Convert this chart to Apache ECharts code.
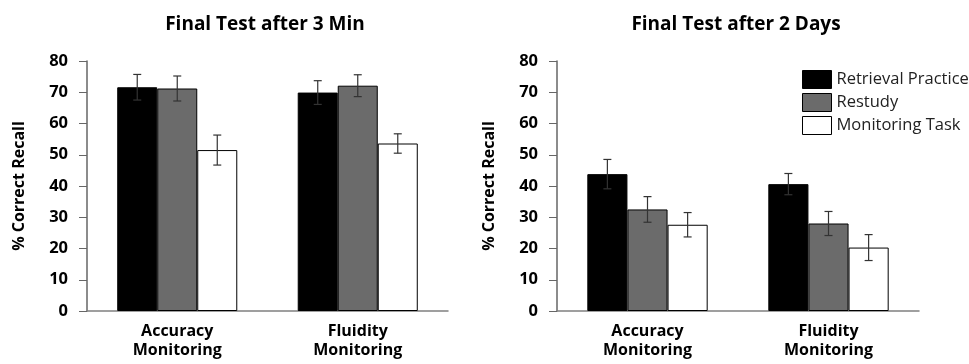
<!DOCTYPE html>
<html>
<head>
<meta charset="utf-8">
<script src="https://cdn.jsdelivr.net/npm/echarts@6/dist/echarts.min.js"></script>
<style>html,body{margin:0;padding:0;background:#fff}#c{width:969px;height:364px}</style>
</head>
<body>
<div id="c"></div>
<script>
const categories = ['Accuracy\nMonitoring', 'Fluidity\nMonitoring'];
const seriesNames = ['Retrieval Practice', 'Restudy', 'Monitoring Task'];
const yTicks = [0, 10, 20, 30, 40, 50, 60, 70, 80];
const titles = ['Final Test after 3 Min', 'Final Test after 2 Days'];

// Final Test after 3 Min
const min3Retrieval = [71.6, 69.9];
const min3Restudy = [71.2, 72.1];
const min3Monitoring = [51.5, 53.6];
const min3RetrievalErr = [4.1, 3.8];
const min3RestudyErr = [4.0, 3.5];
const min3MonitoringErr = [4.8, 3.1];

// Final Test after 2 Days
const day2Retrieval = [43.8, 40.6];
const day2Restudy = [32.5, 28.0];
const day2Monitoring = [27.6, 20.3];
const day2RetrievalErr = [4.7, 3.4];
const day2RestudyErr = [4.1, 3.85];
const day2MonitoringErr = [3.9, 4.15];

const colors = ['#000000', '#6b6b6b', '#ffffff'];
const FONT = 'Open Sans';
const GAP = 0.335;

const panels = [
  { vals: [min3Retrieval, min3Restudy, min3Monitoring], errs: [min3RetrievalErr, min3RestudyErr, min3MonitoringErr] },
  { vals: [day2Retrieval, day2Restudy, day2Monitoring], errs: [day2RetrievalErr, day2RestudyErr, day2MonitoringErr] }
];

const grids = [
  { left: 87, right: 521, top: 61, bottom: 53 },
  { left: 557, right: 50, top: 61, bottom: 53 }
];

const xAxes = grids.map((g, i) => ({
  type: 'category', gridIndex: i, data: categories,
  axisLine: { lineStyle: { color: '#808080', width: 1.5 } },
  axisTick: { show: false },
  axisLabel: { fontFamily: FONT, fontWeight: 'bold', fontSize: 16, color: '#000', lineHeight: 19, margin: 11, interval: 0 }
}));
const yAxes = grids.map((g, i) => ({
  type: 'value', gridIndex: i, min: yTicks[0], max: yTicks[yTicks.length - 1], interval: 10,
  name: '% Correct Recall', nameLocation: 'middle', nameGap: 60,
  nameTextStyle: { fontFamily: FONT, fontWeight: 'bold', fontSize: 16, color: '#000' },
  axisLine: { show: true, lineStyle: { color: '#666', width: 1.5 } },
  axisTick: { show: true, length: 8, lineStyle: { color: '#666' } },
  splitLine: { show: false },
  axisLabel: { fontFamily: FONT, fontWeight: 'bold', fontSize: 16.5, color: '#000', margin: 19 }
}));

const series = [];
panels.forEach((p, gi) => {
  p.vals.forEach((v, si) => {
    series.push({
      type: 'bar', name: seriesNames[si], xAxisIndex: gi, yAxisIndex: gi, data: v,
      barGap: '0%', barCategoryGap: (GAP * 100) + '%',
      itemStyle: { color: colors[si], borderColor: '#000', borderWidth: 1 },
      emphasis: { disabled: true }
    });
  });
  p.vals.forEach((v, si) => {
    series.push({
      type: 'custom', xAxisIndex: gi, yAxisIndex: gi, z: 10,
      data: v.map((val, ci) => [ci, val, p.errs[si][ci]]),
      renderItem: function (params, api) {
        const ci = api.value(0), val = api.value(1), e = api.value(2);
        const band = api.size([1, 0])[0];
        const bw = band * (1 - GAP) / 3;
        const cx = api.coord([ci, val])[0] + (si - 1) * bw;
        const yt = api.coord([ci, val + e])[1];
        const yb = api.coord([ci, val - e])[1];
        const cap = 4;
        const st = { stroke: '#333', lineWidth: 1.2 };
        return { type: 'group', children: [
          { type: 'line', shape: { x1: cx, y1: yt, x2: cx, y2: yb }, style: st },
          { type: 'line', shape: { x1: cx - cap, y1: yt, x2: cx + cap, y2: yt }, style: st },
          { type: 'line', shape: { x1: cx - cap, y1: yb, x2: cx + cap, y2: yb }, style: st }
        ] };
      }
    });
  });
});

const chart = echarts.init(document.getElementById('c'), null, { renderer: 'canvas' });
chart.setOption({
  animation: false,
  title: [
    { text: titles[0], left: 260, top: 10, textAlign: 'center', textStyle: { fontFamily: FONT, fontWeight: 'bold', fontSize: 19, color: '#000' } },
    { text: titles[1], left: 731, top: 10, textAlign: 'center', textStyle: { fontFamily: FONT, fontWeight: 'bold', fontSize: 19, color: '#000' } }
  ],
  legend: {
    data: seriesNames, orient: 'vertical', left: 797, top: 65,
    itemWidth: 29, itemHeight: 18, itemGap: 4, icon: 'rect',
    textStyle: { fontFamily: FONT, fontSize: 16.5, color: '#222', padding: [0, 0, 0, 0] },
    itemStyle: { borderColor: '#000', borderWidth: 1 }
  },
  grid: grids,
  xAxis: xAxes,
  yAxis: yAxes,
  series: series
});
</script>
</body>
</html>
